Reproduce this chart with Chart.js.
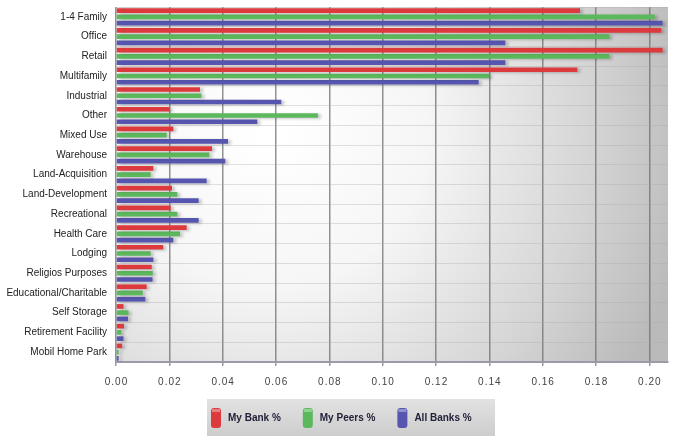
<!DOCTYPE html>
<html>
<head>
<meta charset="utf-8">
<script src="https://cdn.jsdelivr.net/npm/chart.js@4.4.1/dist/chart.umd.min.js"></script>
<style>
  html, body { margin: 0; padding: 0; background: #ffffff; }
  #wrap { width: 676px; height: 436px; position: relative; }
</style>
</head>
<body>
<div id="wrap"><canvas id="c" width="676" height="436"></canvas></div>
<script>
const categories = ["1-4 Family", "Office", "Retail", "Multifamily", "Industrial", "Other", "Mixed Use", "Warehouse", "Land-Acquisition", "Land-Development", "Recreational", "Health Care", "Lodging", "Religios Purposes", "Educational/Charitable", "Self Storage", "Retirement Facility", "Mobil Home Park"];
const myBank  = [0.174, 0.2045, 0.205, 0.173, 0.0315, 0.020, 0.0215, 0.036, 0.014, 0.021, 0.0205, 0.0265, 0.0177, 0.0134, 0.0115, 0.0028, 0.003, 0.0023];
const myPeers = [0.202, 0.185, 0.185, 0.140, 0.032, 0.0757, 0.019, 0.035, 0.013, 0.023, 0.023, 0.024, 0.013, 0.0138, 0.010, 0.0047, 0.002, 0.001];
const allBanks = [0.205, 0.146, 0.146, 0.136, 0.062, 0.053, 0.042, 0.041, 0.034, 0.031, 0.031, 0.0215, 0.014, 0.0137, 0.011, 0.0045, 0.0028, 0.001];
const seriesNames = ["My Bank %", "My Peers %", "All Banks %"];
const seriesColors = ["#dc3a3d", "#5cb85c", "#5656b0"];
const xTicks = [0.00, 0.02, 0.04, 0.06, 0.08, 0.10, 0.12, 0.14, 0.16, 0.18, 0.20];
const xMax = 0.207;

const bgPlugin = {
  id: 'bg',
  beforeDraw(chart) {
    const { ctx, chartArea: a } = chart;
    ctx.save();
    const g = ctx.createRadialGradient(270, 130, 10, 270, 130, 430);
    g.addColorStop(0, '#ffffff');
    g.addColorStop(0.35, '#f6f6f6');
    g.addColorStop(0.75, '#d4d4d4');
    g.addColorStop(1, '#bababa');
    ctx.fillStyle = g;
    ctx.fillRect(a.left, a.top, a.right - a.left, a.bottom - a.top);
    ctx.restore();
  },
  beforeDatasetsDraw(chart) {
    const ctx = chart.ctx;
    ctx.save();
    ctx.shadowColor = 'rgba(0,0,0,0.22)';
    ctx.shadowOffsetX = 3;
    ctx.shadowOffsetY = 1;
    ctx.shadowBlur = 3;
  },
  afterDatasetsDraw(chart) {
    chart.ctx.restore();
  },
  afterDraw(chart) {
    const { ctx, chartArea: a } = chart;
    const xs = chart.scales.x;
    ctx.save();
    ctx.font = '10px "Liberation Sans", Arial, sans-serif';
    ctx.fillStyle = '#444444';
    ctx.textAlign = 'center';
    ctx.textBaseline = 'middle';
    try { ctx.letterSpacing = '1px'; } catch (e) {}
    xTicks.forEach(v => {
      ctx.fillText(v.toFixed(2), xs.getPixelForValue(v) + 0.5, a.bottom + 20);
    });
    ctx.restore();
    ctx.save();
    const bx = 207, by = 399, bw = 288, bh = 37;
    const lg = ctx.createLinearGradient(0, by, 0, by + bh);
    lg.addColorStop(0, '#e2e2e2');
    lg.addColorStop(1, '#cdcdcd');
    ctx.fillStyle = lg;
    ctx.fillRect(bx, by, bw, bh);
    ctx.font = 'bold 10px "Liberation Sans", Arial, sans-serif';
    ctx.textBaseline = 'middle';
    ctx.textAlign = 'left';
    let x = 211;
    const cy = 418;
    seriesNames.forEach((name, i) => {
      ctx.fillStyle = seriesColors[i];
      ctx.beginPath();
      ctx.roundRect(x, cy - 10, 10, 20, 3);
      ctx.fill();
      ctx.fillStyle = 'rgba(255,255,255,0.35)';
      ctx.fillRect(x + 1, cy - 9, 8, 3);
      ctx.fillStyle = '#22223a';
      ctx.fillText(name, x + 17, cy);
      x += 17 + ctx.measureText(name).width + 22;
    });
    ctx.restore();
  }
};

new Chart(document.getElementById('c'), {
  type: 'bar',
  data: {
    labels: categories,
    datasets: [
      { label: seriesNames[0], data: myBank, backgroundColor: seriesColors[0] },
      { label: seriesNames[1], data: myPeers, backgroundColor: seriesColors[1] },
      { label: seriesNames[2], data: allBanks, backgroundColor: seriesColors[2] }
    ]
  },
  options: {
    indexAxis: 'y',
    responsive: false,
    animation: false,
    devicePixelRatio: 1,
    layout: { padding: { left: 0, right: 8, top: 7, bottom: 0 } },
    datasets: { bar: { categoryPercentage: 0.95, barPercentage: 0.75 } },
    plugins: { legend: { display: false }, tooltip: { enabled: false } },
    scales: {
      x: {
        type: 'linear',
        min: 0,
        max: xMax,
        afterBuildTicks(scale) {
          scale.ticks = xTicks.map(v => ({ value: v }));
        },
        afterFit(scale) { scale.height = 74; scale.paddingLeft = 0; scale.paddingRight = 0; },
        ticks: { display: false },
        grid: { color: 'rgba(110,110,110,0.75)', lineWidth: 1.5, tickLength: 4, drawTicks: true, tickColor: '#9a9aa6' },
        border: { display: true, color: '#9a9aa8', width: 2 }
      },
      y: {
        afterFit(scale) { scale.width = 116; scale.paddingTop = 0; scale.paddingBottom = 0; },
        ticks: { color: '#222222', font: { family: '"Liberation Sans", Arial, sans-serif', size: 10 }, padding: 9 },
        grid: { color: 'rgba(170,170,170,0.35)', lineWidth: 1, drawTicks: false },
        border: { display: false }
      }
    }
  },
  plugins: [bgPlugin]
});
</script>
</body>
</html>
